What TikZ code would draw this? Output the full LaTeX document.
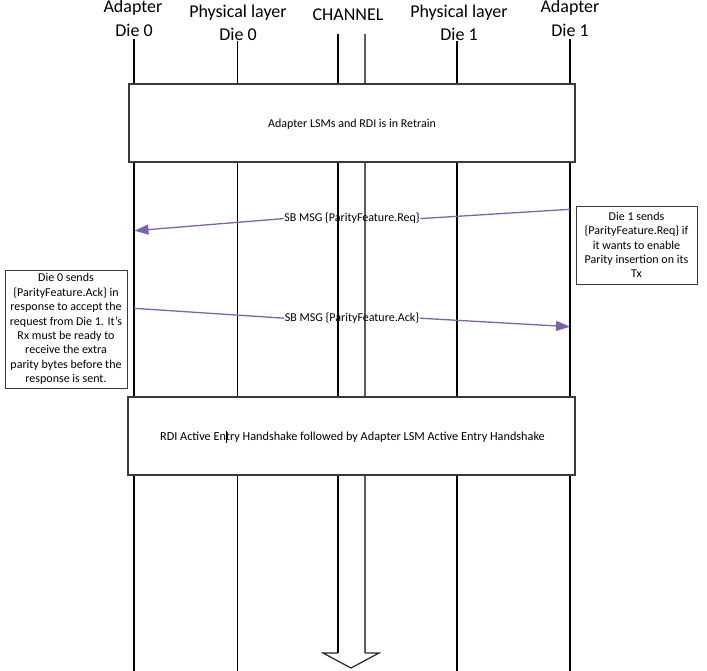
\documentclass[tikz,border=0pt]{standalone}
\usepackage{fontspec}
\setmainfont{Carlito}
\usetikzlibrary{arrows.meta}
\definecolor{msgpurple}{HTML}{7F62A8}
\definecolor{boxline}{HTML}{3A3A3A}
\definecolor{chgray}{HTML}{5E5E5E}
\begin{document}
\begin{tikzpicture}[x=1pt,y=-1pt,
  lifeline/.style={line width=1.3pt, black},
  hdr/.style={font=\fontsize{18}{22}\selectfont, inner sep=0pt, anchor=base},
  phase/.style={draw=boxline, line width=1.2pt, fill=white, inner sep=0pt,
    font=\fontsize{12}{14}\selectfont},
  note/.style={draw=boxline, line width=1pt, fill=white, align=center, inner sep=0pt,
    font=\fontsize{12}{14.4}\selectfont},
  msgline/.style={msgpurple, line width=1.3pt},
  msgarrow/.style={msgpurple, line width=1.3pt, -{Triangle[length=14pt,width=10pt]}},
  msglabel/.style={font=\fontsize{12}{14}\selectfont, inner sep=0.5pt}]
\useasboundingbox (0,0) rectangle (707,670);

% headers
\node[hdr] (a0t) at (133,12) {Adapter};
\node[hdr] (a0b) at (134,36) {Die 0};
\node[hdr] (p0t) at (238,17.5) {Physical layer};
\node[hdr] (p0b) at (238,40) {Die 0};
\node[hdr] (cht) at (348,20.5) {CHANNEL};
\node[hdr] (p1t) at (459,17.5) {Physical layer};
\node[hdr] (p1b) at (459,40) {Die 1};
\node[hdr] (a1t) at (570,12) {Adapter};
\node[hdr] (a1b) at (570,36) {Die 1};

% lifeline end points
\coordinate (a0top) at (134,39);   \coordinate (a0bot) at (134,672);
\coordinate (p0top) at (237.5,41); \coordinate (p0bot) at (237.5,672);
\coordinate (c0top) at (338,34);   \coordinate (c0bot) at (338,653);
\coordinate (c1top) at (365,34);   \coordinate (c1bot) at (365,653);
\coordinate (p1top) at (457,41);   \coordinate (p1bot) at (457,672);
\coordinate (a1top) at (570,39);   \coordinate (a1bot) at (570,672);

\draw[lifeline] (a0top) -- (a0bot);
\draw[lifeline] (p0top) -- (p0bot);
\draw[lifeline] (c0top) -- (c0bot);
\draw[lifeline, chgray] (c1top) -- (c1bot);
\draw[lifeline] (p1top) -- (p1bot);
\draw[lifeline] (a1top) -- (a1bot);

% channel hollow arrow head
\coordinate (hl) at (323,653);
\coordinate (hr) at (379,653);
\coordinate (htip) at (351,668);
\draw[line width=1.2pt, black!85, line join=miter] (c0bot) -- (hl) -- (htip) -- (hr) -- (c1bot);

% phase boxes
\node[phase, minimum width=446pt, minimum height=78pt] (retrain) at (352,123) {};
\node[font=\fontsize{12}{14}\selectfont, inner sep=0pt] (retraintxt) at (352,124.5) {Adapter LSMs and RDI is in Retrain};

\node[phase, minimum width=447pt, minimum height=78pt] (active) at (351.5,436) {};
\node[font=\fontsize{12.25}{14}\selectfont, inner sep=0pt] (activetxt) at (352.5,437.5) {RDI Active Entry Handshake followed by Adapter LSM Active Entry Handshake};
\coordinate (curtop) at (226.5,431);
\coordinate (curbot) at (226.5,443);
\draw[line width=0.8pt, black] (curtop) -- (curbot);

% notes
\node[note, minimum width=121pt, minimum height=78pt] (note1) at (636.5,245)
  {Die 1 sends\\\{ParityFeature.Req\} if\\it wants to enable\\Parity insertion on its\\Tx};
\node[note, minimum width=122pt, minimum height=118pt] (note0) at (66,329)
  {Die 0 sends\\\{ParityFeature.Ack\} in\\response to accept the\\request from Die 1. It’s\\Rx must be ready to\\receive the extra\\parity bytes before the\\response is sent.};

% messages
\coordinate (reqS) at (570,209.3);
\coordinate (reqE) at (134.5,230.7);
\node[msglabel] (reqL) at (352,218.6) {SB MSG \{ParityFeature.Req\}};
\draw[msgline] (reqS) -- (reqL.east);
\draw[msgarrow] (reqL.west) -- (reqE);

\coordinate (ackS) at (134,308.3);
\coordinate (ackE) at (570,326.7);
\node[msglabel] (ackL) at (352,318.2) {SB MSG \{ParityFeature.Ack\}};
\draw[msgline] (ackS) -- (ackL.west);
\draw[msgarrow] (ackL.east) -- (ackE);
\end{tikzpicture}
\end{document}
